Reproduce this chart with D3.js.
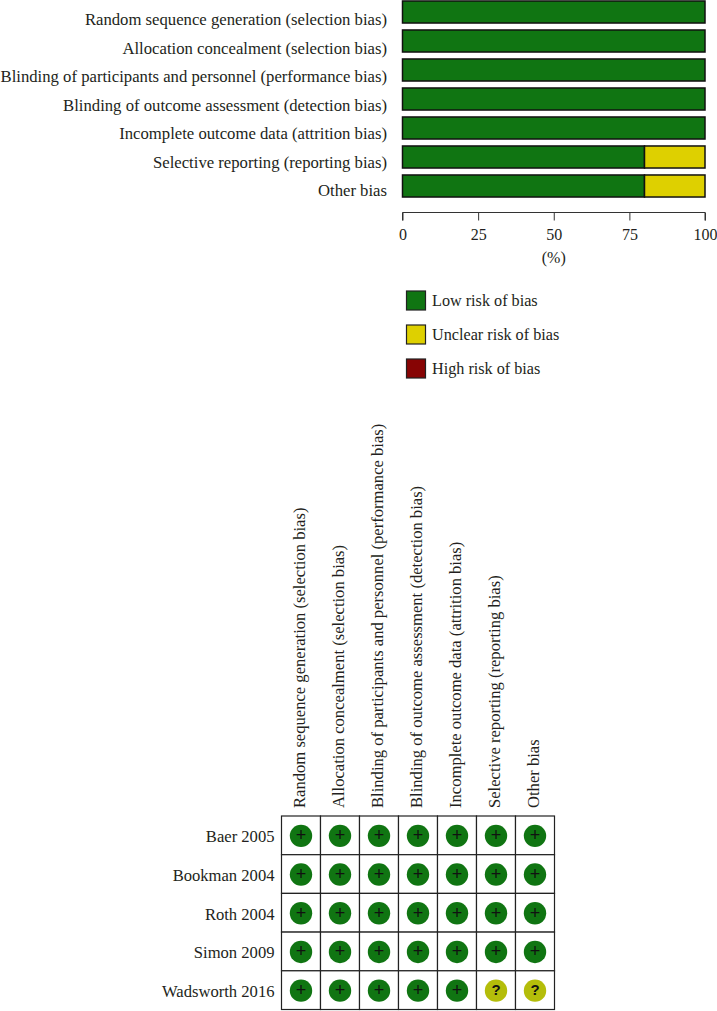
<!DOCTYPE html>
<html>
<head>
<meta charset="utf-8">
<script src="https://cdn.jsdelivr.net/npm/d3@7"></script>
<style>
  body { margin: 0; background: #fff; }
  text { font-family: "Liberation Serif", serif; fill: #231f20; }
</style>
</head>
<body>
<div id="canvas"></div>
<script>
"use strict"

let domains = [
    "Random sequence generation (selection bias)",
    "Allocation concealment (selection bias)",
    "Blinding of participants and personnel (performance bias)",
    "Blinding of outcome assessment (detection bias)",
    "Incomplete outcome data (attrition bias)",
    "Selective reporting (reporting bias)",
    "Other bias"
]
let lowRisk = [100, 100, 100, 100, 100, 80, 80]
let unclearRisk = [0, 0, 0, 0, 0, 20, 20]
let highRisk = [0, 0, 0, 0, 0, 0, 0]
let percentTicks = [0, 25, 50, 75, 100]
let riskLevels = ["Low risk of bias", "Unclear risk of bias", "High risk of bias"]
let riskColors = ["#107512", "#ded000", "#870404"]

let studies = ["Baer 2005", "Bookman 2004", "Roth 2004", "Simon 2009", "Wadsworth 2016"]
let judgements = [
    ["+", "+", "+", "+", "+", "+", "+"],
    ["+", "+", "+", "+", "+", "+", "+"],
    ["+", "+", "+", "+", "+", "+", "+"],
    ["+", "+", "+", "+", "+", "+", "+"],
    ["+", "+", "+", "+", "+", "?", "?"]
]

let drawing = d3.select("#canvas")
    .append("svg")
    .attr("width", 717)
    .attr("height", 1011)
    .style("display", "block")

// top chart: stacked bars
let x = d3.scaleLinear().domain([0, 100]).range([402.5, 705])
let y = d3.scaleBand().domain(domains).range([-2.5, 200.5]).paddingInner(0.24).paddingOuter(0.12)
// the labels run at a slightly tighter step than the bars in the original
let labelY = d3.scalePoint().domain(domains).range([25, 196])

let stack = d3.stack().keys([0, 1, 2]).value((d, k) => d[k])
let rows = domains.map((d, i) => [lowRisk[i], unclearRisk[i], highRisk[i]])
let layers = stack(rows)

layers.forEach((layer, k) => {
    drawing.append("g").selectAll("rect")
        .data(layer)
        .join("rect")
        .filter(d => d[1] > d[0])
        .attr("x", d => x(d[0]))
        .attr("y", d => y(domains[layer.indexOf(d)]))
        .attr("width", d => x(d[1]) - x(d[0]))
        .attr("height", y.bandwidth())
        .attr("fill", riskColors[k])
        .attr("stroke", "#111")
        .attr("stroke-width", 1.5)
})

drawing.append("g").selectAll("text")
    .data(domains)
    .join("text")
    .attr("x", 387)
    .attr("y", d => labelY(d))
    .attr("text-anchor", "end")
    .attr("font-size", 16.7)
    .text(d => d)

let axis = drawing.append("g")
    .attr("transform", "translate(0,212.5)")
    .call(d3.axisBottom(x).tickValues(percentTicks).tickSizeOuter(0).tickSizeInner(8).tickPadding(8))
axis.select(".domain").attr("stroke", "#333").attr("d", "M402.5,8V0H705V8").attr("fill", "none")
axis.selectAll("line").attr("stroke", "#333")
axis.selectAll("text").attr("font-size", 16).attr("font-family", "Liberation Serif").attr("fill", "#231f20")

drawing.append("text")
    .attr("x", x(50))
    .attr("y", 263)
    .attr("text-anchor", "middle")
    .attr("font-size", 16)
    .text("(%)")

// legend
let legendY = d3.scalePoint().domain(riskLevels).range([291, 359])
let legend = drawing.append("g")
legend.selectAll("rect")
    .data(riskLevels)
    .join("rect")
    .attr("x", 406.5)
    .attr("y", d => legendY(d))
    .attr("width", 19)
    .attr("height", 19)
    .attr("fill", (d, i) => riskColors[i])
    .attr("stroke", "#222")
    .attr("stroke-width", 1.2)
legend.selectAll("text")
    .data(riskLevels)
    .join("text")
    .attr("x", 432)
    .attr("y", d => legendY(d) + 15)
    .attr("font-size", 16.2)
    .text(d => d)

// bottom chart: risk of bias grid
let gx = d3.scaleBand().domain(domains).range([281.5, 554.5])
let gy = d3.scaleBand().domain(studies).range([816, 1009.5])

let grid = drawing.append("g")
studies.forEach((study, r) => {
    domains.forEach((domain, c) => {
        grid.append("rect")
            .attr("x", gx(domain))
            .attr("y", gy(study))
            .attr("width", gx.bandwidth())
            .attr("height", gy.bandwidth())
            .attr("fill", "#fff")
            .attr("stroke", "#222")
            .attr("stroke-width", 1.2)
        let mark = judgements[r][c]
        grid.append("circle")
            .attr("cx", gx(domain) + gx.bandwidth() / 2)
            .attr("cy", gy(study) + gy.bandwidth() / 2 + 0.5)
            .attr("r", 11.2)
            .attr("fill", mark == "+" ? "#107512" : "#b4bd0a")
        grid.append("text")
            .attr("x", gx(domain) + gx.bandwidth() / 2)
            .attr("y", gy(study) + gy.bandwidth() / 2 + (mark == "+" ? 6 : 4.5))
            .attr("text-anchor", "middle")
            .attr("font-size", mark == "+" ? 18 : 15)
            .attr("font-weight", mark == "+" ? "normal" : "bold")
            .style("font-family", "Liberation Sans")
            .style("fill", "#111")
            .text(mark)
    })
})

drawing.append("g").selectAll("text")
    .data(studies)
    .join("text")
    .attr("x", 274.5)
    .attr("y", d => gy(d) + gy.bandwidth() / 2 + 7)
    .attr("text-anchor", "end")
    .attr("font-size", 16.6)
    .text(d => d)

drawing.append("g").selectAll("text")
    .data(domains)
    .join("text")
    .attr("transform", d => `translate(${gx(d) + gx.bandwidth() / 2 + 3.5},808) rotate(-90)`)
    .attr("font-size", 16.6)
    .text(d => d)
</script>
</body>
</html>
